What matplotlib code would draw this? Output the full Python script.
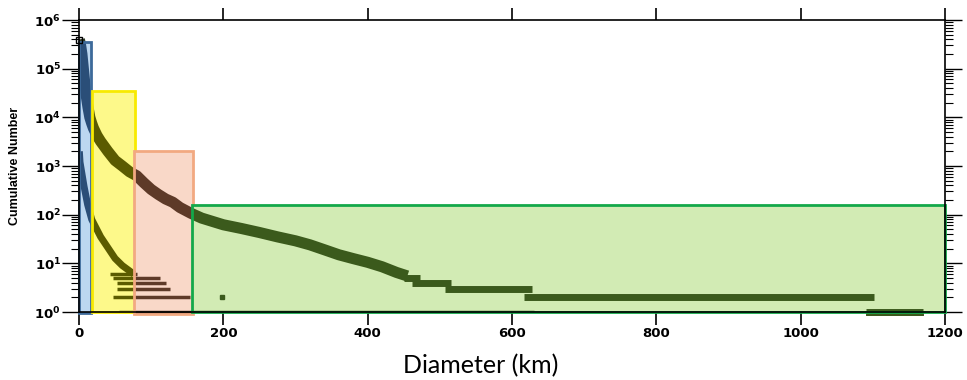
import matplotlib.pyplot as plt
import numpy as np
from matplotlib.patches import Rectangle
from matplotlib.ticker import LogLocator, NullFormatter

plt.rcParams['mathtext.fontset'] = 'custom'
plt.rcParams['mathtext.bf'] = 'DejaVu Sans:bold'
plt.rcParams['mathtext.rm'] = 'DejaVu Sans:bold'
plt.rcParams['mathtext.default'] = 'bf'

# Main population: cumulative number vs diameter (km)
main_d = [0.5, 2, 4, 6, 8, 10, 12.5, 15, 17.5, 20, 25, 30, 40, 50, 60, 70,
          80, 90, 100, 110, 120, 130, 140, 155, 170, 200, 225, 250, 275,
          300, 320, 340, 360, 380, 400, 420, 440, 455]
main_n = [398000, 316000, 200000, 100000, 50000, 28000, 16000, 10000, 7600,
          6000, 4200, 3200, 2000, 1300, 1000, 760, 630, 450, 330, 260, 210,
          180, 140, 107, 85, 62, 52, 43, 35, 29, 24, 19, 15, 12.5, 10.5,
          8.5, 6.5, 5.5]

# Large-diameter tail, one level per count
step_n = [5, 4, 3, 2, 1]
step_start = [450, 462, 507, 617, 1091]
step_end = [472, 515, 628, 1101, 1169]

# Second (lower) population
low_d = [0.5, 1.4, 7, 12, 17.6, 20, 30, 40, 50, 60, 70, 76]
low_n = [2000, 1200, 380, 160, 80, 68, 35, 21, 12.6, 9, 7, 6]

# Small-count levels of the lower population
low_lvl = [6, 5, 4, 3, 2, 1]
low_start = [43, 47, 52, 52, 47, 55]
low_end = [80, 112, 121, 126, 154, 630]
stray_d = [198]
stray_n = [2]

# Size ranges: (d0, d1, n0, n1), fill, edge, data colour
ranges = [
    ((0, 16, 0.97, 3.5e5), '#bcd7f0', '#3d6a9a', '#2a4e78'),
    ((17.6, 77.6, 1.0, 3.4e4), '#fdf98a', '#f8ea00', '#5b5b00'),
    ((76, 157.5, 0.93, 2000), '#f9d8c8', '#f2a981', '#5e3a28'),
    ((156, 1200, 1.0, 160), '#d2ebb4', '#13a84a', '#3b5a1c'),
]

fig = plt.figure(figsize=(9.67, 3.8), dpi=100)
ax = fig.add_axes([79 / 967, 1 - 312 / 380, 866 / 967, 292 / 380])
ax.set_yscale('log')
ax.set_xlim(0, 1200)
ax.set_ylim(1, 1e6)


def draw_data(color, z, clip=None):
    arts = []
    arts += ax.plot(main_d, main_n, color=color, lw=8, zorder=z,
                    solid_capstyle='butt', solid_joinstyle='round')
    arts.append(ax.hlines(step_n, step_start, step_end, color=color, lw=5,
                          zorder=z, clip_on=False))
    arts += ax.plot(low_d, low_n, color=color, lw=5, zorder=z,
                    solid_capstyle='butt', solid_joinstyle='round')
    arts.append(ax.hlines(low_lvl, low_start, low_end, color=color, lw=2.5,
                          zorder=z))
    arts += ax.plot(stray_d, stray_n, 's', color=color, ms=2.5, zorder=z)
    if clip is not None:
        for a in arts:
            a.set_clip_path(clip)


# dark base layer, visible outside the shaded ranges
draw_data('#2f3a25', 0.5)

for i, ((d0, d1, n0, n1), fill, edge, dcol) in enumerate(ranges):
    z = 1 + i * 3
    box = Rectangle((d0, n0), d1 - d0, n1 - n0, facecolor=fill,
                    edgecolor='none', zorder=z, clip_on=False)
    ax.add_patch(box)
    draw_data(dcol, z + 1, clip=box)
    ax.add_patch(Rectangle((d0, n0), d1 - d0, n1 - n0, facecolor='none',
                           edgecolor=edge, lw=2, zorder=z + 2, clip_on=False))

ax.plot([0], [3.8e5], 's', mfc='none', mec='black', ms=5, mew=1,
        zorder=20, clip_on=False)

ax.set_yticks([10.0 ** i for i in range(7)])
ax.set_yticklabels([r'$10^{%d}$' % i for i in range(7)])
ax.yaxis.set_minor_locator(LogLocator(base=10, subs=np.arange(2, 10)))
ax.yaxis.set_minor_formatter(NullFormatter())
ax.set_xticks(np.arange(0, 1201, 200))
ax.set_xticklabels([str(v) for v in range(0, 1201, 200)],
                   fontweight='bold', fontsize=9.5)

ax.tick_params(axis='y', which='major', left=True, right=True,
               direction='out', length=12, width=1, labelsize=9.5, pad=1)
ax.tick_params(axis='y', which='minor', left=True, right=True,
               direction='out', length=6, width=0.8)
ax.tick_params(axis='x', which='major', top=True, bottom=True,
               direction='out', length=9, width=1.2, pad=2)
for s in ax.spines.values():
    s.set_linewidth(1.2)
    s.set_zorder(30)

fig.text(15 / 967, 1 - 166 / 380, 'Cumulative Number', rotation=90,
         ha='center', va='center', fontsize=9, fontweight='bold',
         family=['Liberation Sans Narrow', 'Liberation Sans'])
fig.text(481 / 967, 1 - 366 / 380, 'Diameter (km)', ha='center',
         va='center', fontsize=18, family=['Lato', 'DejaVu Sans'])

fig.savefig('out.png', dpi=100)
